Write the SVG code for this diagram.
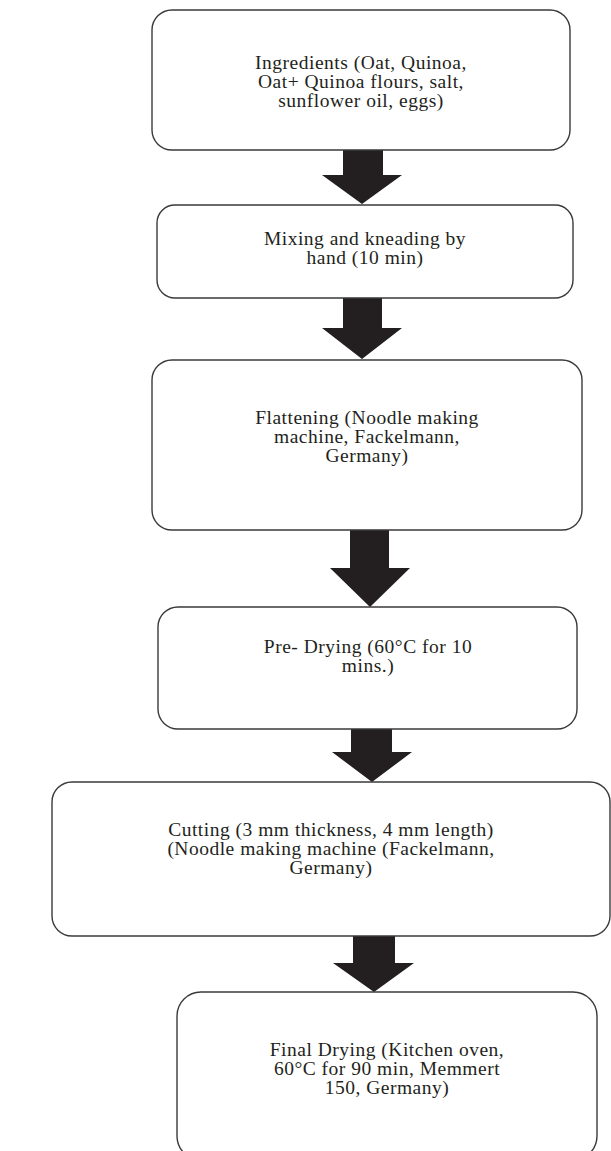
<svg xmlns="http://www.w3.org/2000/svg" width="611" height="1151" viewBox="0 0 611 1151">
<style>
.box{fill:#ffffff;stroke:#3a3a3a;stroke-width:1.4}
.lbl{font-family:"Liberation Serif","Times New Roman",serif;font-size:19.5px;letter-spacing:0.5px;fill:#231f20;text-anchor:middle}
.arr{fill:#231f20;stroke:none}
</style>
<rect x="0" y="0" width="611" height="1151" fill="#ffffff"/>
<g id="connectors">
<polygon class="arr" points="343,150 383,150 383,175 402,175 362,204 322,175 343,175"/>
<polygon class="arr" points="343,298 382,298 382,328 402,328 362,359 322,328 343,328"/>
<polygon class="arr" points="350,530 389,530 389,568 410,568 370,607 330,568 350,568"/>
<polygon class="arr" points="351,729 392,729 392,752 412,752 372,782 332,752 351,752"/>
<polygon class="arr" points="353,936 395,936 395,963 414,963 374,992 333,963 353,963"/>
</g>
<g id="n1">
<rect class="box" x="152" y="10" width="418" height="140" rx="20" ry="20"/>
<text class="lbl" x="361" y="69">Ingredients (Oat, Quinoa,</text>
<text class="lbl" x="361" y="88">Oat+ Quinoa flours, salt,</text>
<text class="lbl" x="361" y="107">sunflower oil, eggs)</text>
</g>
<g id="n2">
<rect class="box" x="157" y="205" width="416" height="93" rx="18" ry="18"/>
<text class="lbl" x="365" y="245">Mixing and kneading by</text>
<text class="lbl" x="365" y="264">hand (10 min)</text>
</g>
<g id="n3">
<rect class="box" x="152" y="360" width="430" height="170" rx="20" ry="20"/>
<text class="lbl" x="367" y="424">Flattening (Noodle making</text>
<text class="lbl" x="367" y="443">machine, Fackelmann,</text>
<text class="lbl" x="367" y="462">Germany)</text>
</g>
<g id="n4">
<rect class="box" x="158" y="607" width="419" height="122" rx="20" ry="20"/>
<text class="lbl" x="368" y="653">Pre- Drying (60°C for 10</text>
<text class="lbl" x="368" y="672">mins.)</text>
</g>
<g id="n5">
<rect class="box" x="52" y="782" width="558" height="154" rx="20" ry="20"/>
<text class="lbl" x="331" y="836">Cutting (3 mm thickness, 4 mm length)</text>
<text class="lbl" x="331" y="855">(Noodle making machine (Fackelmann,</text>
<text class="lbl" x="331" y="874">Germany)</text>
</g>
<g id="n6">
<rect class="box" x="177" y="992" width="420" height="168" rx="24" ry="24"/>
<text class="lbl" x="387" y="1056">Final Drying (Kitchen oven,</text>
<text class="lbl" x="387" y="1075">60°C for 90 min, Memmert</text>
<text class="lbl" x="387" y="1094">150, Germany)</text>
</g>
</svg>
